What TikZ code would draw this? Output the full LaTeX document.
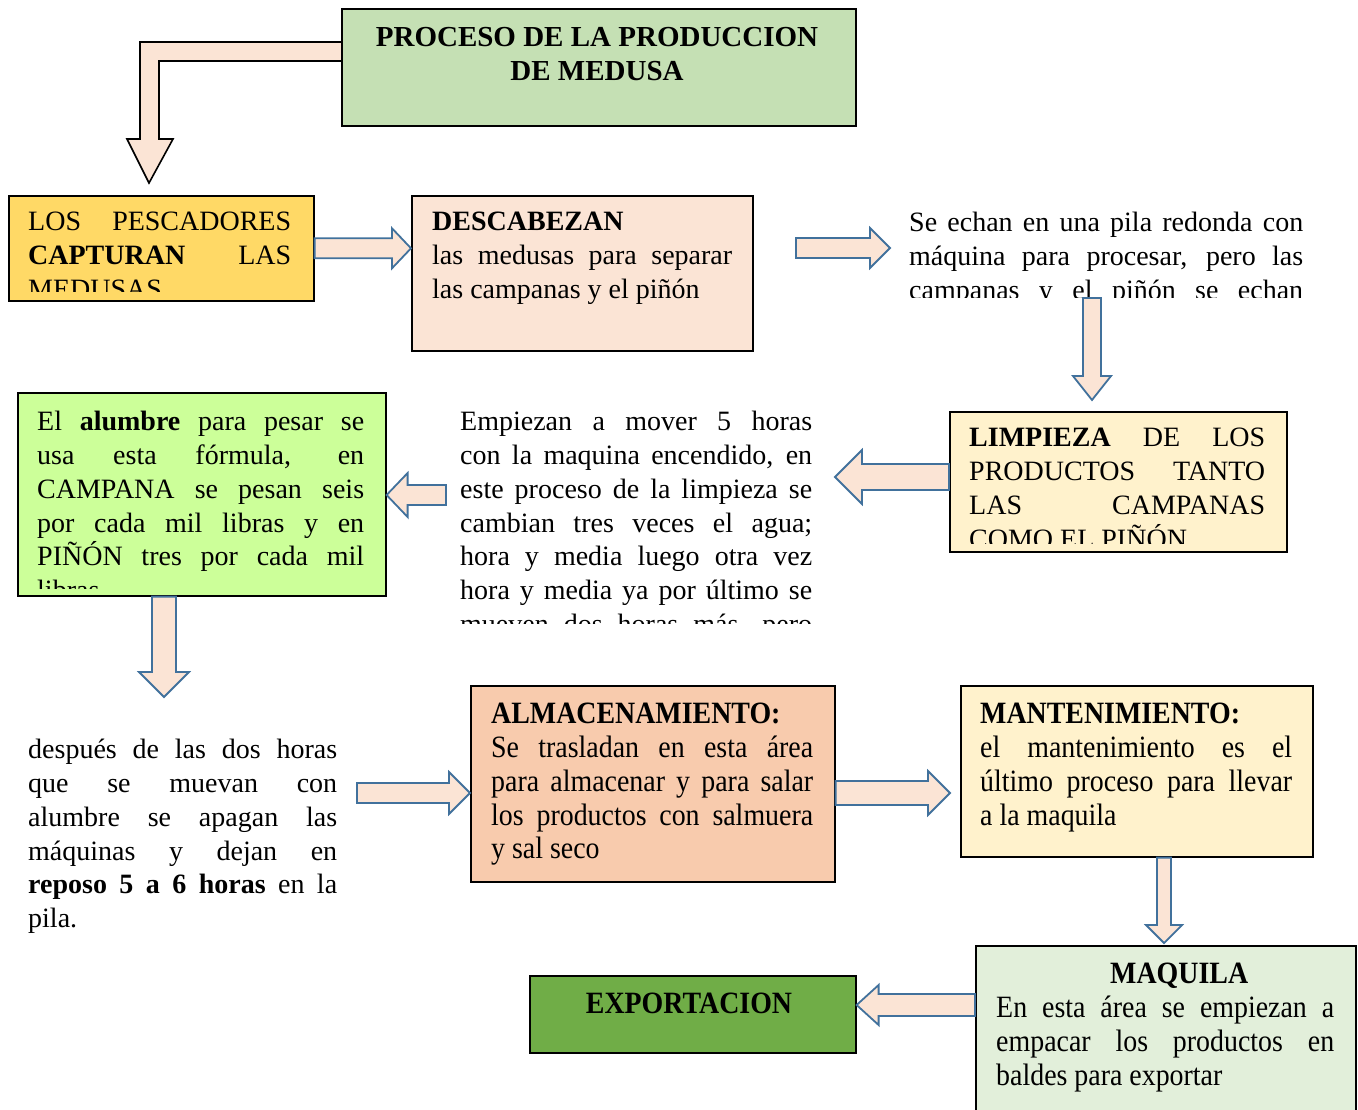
\documentclass[tikz,border=0pt]{standalone}
\usepackage{fontspec}
\setmainfont{Liberation Serif}
\newfontfamily\tallserif{Liberation Serif}[FakeStretch=0.9]
\usetikzlibrary{calc}
\usetikzlibrary{backgrounds}

\definecolor{peach}{HTML}{FBE4D5}
\definecolor{arrowblue}{HTML}{41719C}
\definecolor{titlegreen}{HTML}{C5E0B4}
\definecolor{boxgold}{HTML}{FFD966}
\definecolor{boxcream}{HTML}{FFF2CC}
\definecolor{boxlime}{HTML}{CCFF99}
\definecolor{boxsalmon}{HTML}{F8CBAD}
\definecolor{boxpale}{HTML}{E2EFDA}
\definecolor{boxleaf}{HTML}{70AD47}

\newcommand{\tstrut}{\rule{0pt}{24pt}}
\newcommand{\jl}[2]{\makebox[#1][s]{#2}}
% block arrow: start, tip, half shaft, half head, head length
\newcommand{\blockarrow}[5]{%
  \coordinate (ba) at ($(#2)!#5!(#1)$);
  \draw[blockarr] ($(#1)!#3!90:(#2)$) -- ($(ba)!#3!90:(#2)$) -- ($(ba)!#4!90:(#2)$) -- (#2)
    -- ($(ba)!#4!-90:(#2)$) -- ($(ba)!#3!-90:(#2)$) -- ($(#1)!#3!-90:(#2)$) -- cycle;}

\begin{document}
\begin{tikzpicture}[x=1pt,y=-1pt,
    stepbox/.style={draw=black, line width=1.6pt, inner sep=0pt, anchor=north west},
    blockarr/.style={draw=arrowblue, line width=1.8pt, fill=peach, line join=miter},
    bentarr/.style={draw=black, line width=1.6pt, fill=peach, line join=miter},
    txt/.style={inner sep=0pt, anchor=north west, align=left, yshift=-5pt,
      font=\fontsize{28}{33.8}\selectfont, execute at begin node=\tstrut},
    talltxt/.style={txt, font=\tallserif\fontsize{31}{33.8}\selectfont}]
  \path[use as bounding box] (0,0) rectangle (1358,1109);

  % boxes
  \node[stepbox, fill=titlegreen, minimum width=514, minimum height=117] (title) at (341,8) {};
  \node[stepbox, fill=boxgold, minimum width=305, minimum height=105] (pesc) at (8,195) {};
  \node[stepbox, fill=peach, minimum width=341, minimum height=155] (desc) at (411,195) {};
  \node[stepbox, fill=boxcream, minimum width=337, minimum height=140] (limp) at (949,411) {};
  \node[stepbox, fill=boxlime, minimum width=368, minimum height=203] (alum) at (17,392) {};
  \node[stepbox, fill=boxsalmon, minimum width=364, minimum height=196] (alma) at (470,685) {};
  \node[stepbox, fill=boxcream, minimum width=352, minimum height=171] (mant) at (960,685) {};
  \node[stepbox, fill=boxpale, minimum width=380, minimum height=175] (maqu) at (975,945) {};
  \node[stepbox, fill=boxleaf, minimum width=326, minimum height=77] (expo) at (529,975) {};

  % bent arrow from the title
  \coordinate (b1) at (149,183);
  \begin{scope}[on background layer]
    \draw[bentarr] ($(title.north west)+(0,34)$) -| (140,139) -- (127,139) -- (b1)
      -- (173,139) -- (159,139) |- ($(title.north west)+(0,53)$);
  \end{scope}

  % texts
  \node[txt, anchor=north, align=center, font=\bfseries\fontsize{29}{33.8}\selectfont] (titletxt) at (597,22)
    {PROCESO DE LA PRODUCCION\\DE MEDUSA};
  \begin{scope}
    \clip (pesc.north west) rectangle ($(pesc.south east)+(0,-10)$);
    \node[txt] (pesctxt) at (28,207)
      {\jl{263pt}{LOS PESCADORES}\\\jl{263pt}{\textbf{CAPTURAN} LAS}\\MEDUSAS};
  \end{scope}
  \node[txt] (desctxt) at (432,207)
    {\textbf{DESCABEZAN}\\\jl{300pt}{las medusas para separar}\\las campanas y el piñón};
  \begin{scope}
    \clip (900,200) rectangle (1310,297);
    \node[txt] (echan) at (909,207)
      {\jl{394pt}{Se echan en una pila redonda con}\\\jl{394pt}{máquina para procesar, pero las}\\
       \jl{394pt}{campanas y el piñón se echan}};
  \end{scope}
  \begin{scope}
    \clip (limp.north west) rectangle ($(limp.south east)+(0,-9)$);
    \node[txt] (limptxt) at (969,423)
      {\jl{296pt}{\textbf{LIMPIEZA} DE LOS}\\\jl{296pt}{PRODUCTOS TANTO}\\\jl{296pt}{LAS CAMPANAS}\\COMO EL PIÑÓN};
  \end{scope}
  \begin{scope}
    \clip (450,400) rectangle (820,623);
    \node[txt] (emp) at (460,406)
      {\jl{352pt}{Empiezan a mover 5 horas}\\\jl{352pt}{con la maquina encendido, en}\\
       \jl{352pt}{este proceso de la limpieza se}\\\jl{352pt}{cambian tres veces el agua;}\\
       \jl{352pt}{hora y media luego otra vez}\\\jl{352pt}{hora y media ya por último se}\\
       \jl{352pt}{mueven dos horas más, pero}};
  \end{scope}
  \begin{scope}
    \clip (alum.north west) rectangle ($(alum.south east)+(0,-8)$);
    \node[txt] (alumtxt) at (37,406)
      {\jl{327pt}{El \textbf{alumbre} para pesar se}\\\jl{327pt}{usa esta fórmula, en}\\
       \jl{327pt}{CAMPANA se pesan seis}\\\jl{327pt}{por cada mil libras y en}\\
       \jl{327pt}{PIÑÓN tres por cada mil}\\libras.};
  \end{scope}
  \node[txt] (desp) at (28,734)
    {\jl{309pt}{después de las dos horas}\\\jl{309pt}{que se muevan con}\\
     \jl{309pt}{alumbre se apagan las}\\\jl{309pt}{máquinas y dejan en}\\
     \jl{309pt}{\textbf{reposo 5 a 6 horas} en la}\\pila.};
  \node[talltxt] (almatxt) at (491,698)
    {\textbf{ALMACENAMIENTO:}\\\jl{322pt}{Se trasladan en esta área}\\
     \jl{322pt}{para almacenar y para salar}\\\jl{322pt}{los productos con salmuera}\\y sal seco};
  \node[talltxt] (manttxt) at (980,698)
    {\textbf{MANTENIMIENTO:}\\\jl{312pt}{el mantenimiento es el}\\
     \jl{312pt}{último proceso para llevar}\\a la maquila};
  \node[talltxt] (maqutxt) at (996,958)
    {\makebox[338pt][c]{\hspace{28pt}\textbf{MAQUILA}}\\\jl{338pt}{En esta área se empiezan a}\\
     \jl{338pt}{empacar los productos en}\\baldes para exportar};
  \node[inner sep=0pt, anchor=base, font=\tallserif\bfseries\fontsize{31}{33.8}\selectfont] (expotxt)
    at (689,1013) {EXPORTACION};

  % arrows
  \coordinate (a1) at (desc.west |- pesc.east);
  \blockarrow{pesc.east}{a1}{10pt}{20pt}{19pt}
  \coordinate (e1) at (796,248);
  \coordinate (e2) at (890,248);
  \blockarrow{e1}{e2}{10pt}{20pt}{20pt}
  \coordinate (e3) at (1092,298);
  \coordinate (e4) at (1092,400);
  \blockarrow{e3}{e4}{9pt}{19pt}{24pt}
  \coordinate (e5) at (limp.west |- 0,477);
  \coordinate (e6) at (835,477);
  \blockarrow{e5}{e6}{13pt}{27pt}{27pt}
  \coordinate (e7) at (446,495);
  \coordinate (a5) at (alum.east |- e7);
  \blockarrow{e7}{a5}{10pt}{22pt}{21pt}
  \coordinate (e8) at (alum.south -| 164,0);
  \coordinate (e9) at (164,697);
  \blockarrow{e8}{e9}{12pt}{25pt}{25pt}
  \coordinate (e10) at (357,793);
  \coordinate (a7) at (alma.west |- e10);
  \blockarrow{e10}{a7}{10pt}{21pt}{21pt}
  \coordinate (a8) at (alma.east |- e10);
  \coordinate (e11) at (950,793);
  \blockarrow{a8}{e11}{12pt}{22pt}{22pt}
  \coordinate (a9) at (mant.south -| 1164,0);
  \coordinate (e12) at (1164,943);
  \blockarrow{a9}{e12}{7pt}{18pt}{18pt}
  \coordinate (a10) at (maqu.west |- 0,1005);
  \coordinate (a11) at (expo.east |- 0,1005);
  \blockarrow{a10}{a11}{11pt}{20pt}{22pt}
\end{tikzpicture}
\end{document}
